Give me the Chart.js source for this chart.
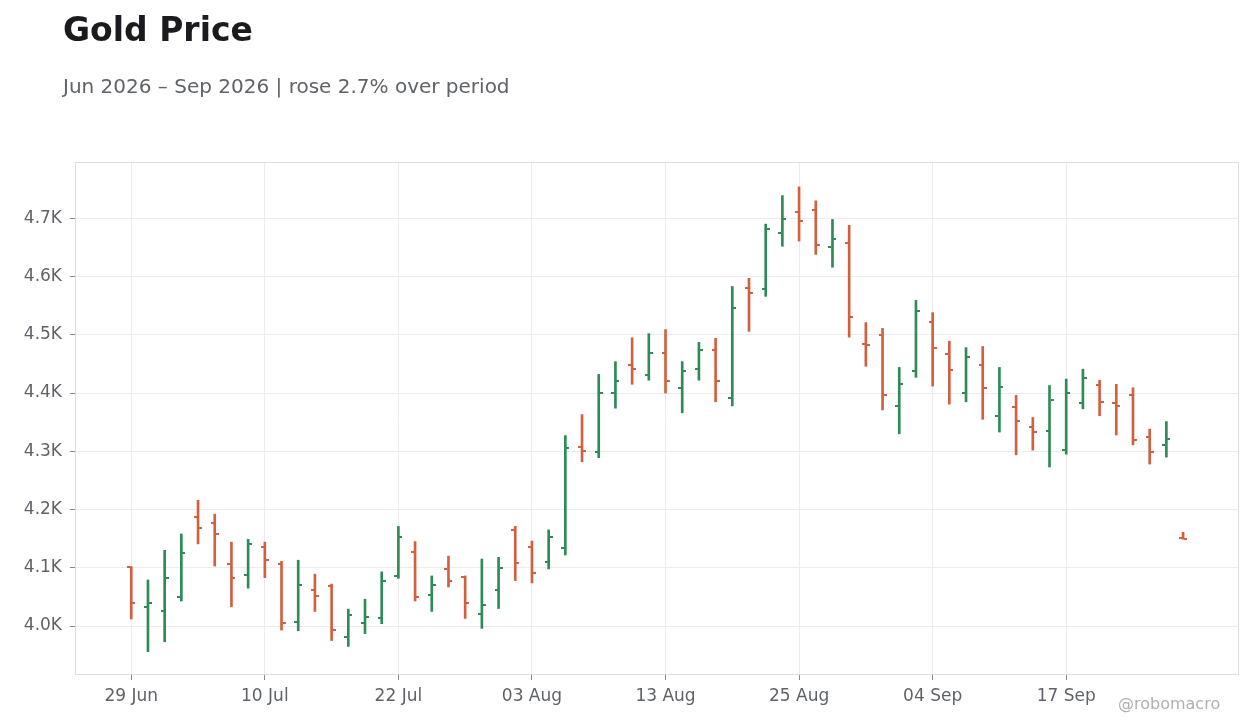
<!DOCTYPE html>
<html>
<head>
<meta charset="utf-8">
<script src="https://cdn.jsdelivr.net/npm/chart.js@4.4.1/dist/chart.umd.min.js"></script>
<style>
  html, body { margin: 0; padding: 0; background: #ffffff; }
  #wrap { position: relative; width: 1260px; height: 728px; overflow: hidden; font-family: "DejaVu Sans", sans-serif; }
  #title { position: absolute; left: 63px; top: 12.8px; font-size: 33px; line-height: 33px; font-weight: bold; color: #1b1b1f; white-space: nowrap; }
  #subtitle { position: absolute; left: 63px; top: 76.4px; font-size: 20px; line-height: 20px; color: #5f6368; white-space: nowrap; }
  #mark { position: absolute; left: 1118px; top: 695.5px; font-size: 16px; line-height: 16px; color: #b0b0b0; white-space: nowrap; }
  canvas { position: absolute; left: 0; top: 0; }
</style>
</head>
<body>
<div id="wrap">
  <canvas id="c" width="1260" height="728"></canvas>
  <div id="title">Gold Price</div>
  <div id="subtitle">Jun 2026 – Sep 2026 | rose 2.7% over period</div>
  <div id="mark">@robomacro</div>
</div>
<script>
// Trading days (category for each bar)
const dates = ['29 Jun','30 Jun','01 Jul','02 Jul','06 Jul','07 Jul','08 Jul','09 Jul','10 Jul','13 Jul',
  '14 Jul','15 Jul','16 Jul','17 Jul','20 Jul','21 Jul','22 Jul','23 Jul','24 Jul','27 Jul',
  '28 Jul','29 Jul','30 Jul','31 Jul','03 Aug','04 Aug','05 Aug','06 Aug','07 Aug','10 Aug',
  '11 Aug','12 Aug','13 Aug','14 Aug','17 Aug','18 Aug','19 Aug','20 Aug','21 Aug','24 Aug',
  '25 Aug','26 Aug','27 Aug','28 Aug','31 Aug','01 Sep','02 Sep','03 Sep','04 Sep','08 Sep',
  '09 Sep','10 Sep','11 Sep','14 Sep','15 Sep','16 Sep','17 Sep','18 Sep','21 Sep','22 Sep',
  '23 Sep','24 Sep','25 Sep','28 Sep'];

const openV  = [4102,4033,4026,4050,4187,4177,4107,4088,4136,4107,
  4007,4061,4069,3982,4006,4014,4086,4127,4054,4098,
  4085,4021,4062,4165,4136,4110,4134,4307,4299,4400,
  4449,4431,4469,4409,4441,4474,4391,4580,4578,4674,
  4710,4715,4650,4657,4484,4500,4378,4438,4522,4467,
  4400,4448,4361,4376,4342,4335,4302,4383,4414,4383,
  4396,4325,4311,4151];
const highV  = [4102,4079,4130,4158,4216,4192,4144,4149,4144,4111,
  4113,4089,4072,4029,4046,4093,4171,4145,4086,4120,
  4086,4115,4118,4171,4146,4165,4327,4363,4432,4454,
  4495,4502,4509,4454,4487,4494,4583,4597,4690,4739,
  4754,4730,4698,4688,4521,4511,4444,4559,4538,4489,
  4478,4480,4444,4396,4358,4413,4424,4441,4422,4415,
  4409,4338,4351,4161];
const lowV   = [4012,3956,3973,4043,4141,4103,4033,4065,4083,3993,
  3992,4025,3975,3965,3987,4004,4082,4043,4025,4067,
  4013,3996,4030,4078,4074,4098,4122,4282,4289,4374,
  4415,4422,4400,4366,4422,4385,4378,4506,4566,4652,
  4661,4638,4616,4496,4446,4371,4330,4427,4412,4381,
  4385,4355,4333,4294,4302,4273,4295,4373,4361,4328,
  4311,4278,4290,4149];
const closeV = [4040,4040,4083,4126,4169,4158,4083,4141,4114,4006,
  4071,4051,3993,4019,4016,4078,4153,4050,4071,4078,
  4040,4036,4100,4108,4091,4153,4306,4300,4400,4420,
  4441,4469,4420,4438,4474,4420,4546,4571,4681,4698,
  4695,4654,4664,4530,4482,4397,4415,4541,4477,4440,
  4462,4409,4410,4352,4333,4388,4400,4426,4385,4378,
  4319,4299,4321,4150];

const xTickIdx = [0, 8, 16, 24, 32, 40, 48, 56];
const yTicks = [4000, 4100, 4200, 4300, 4400, 4500, 4600, 4700];

const UP = '#2e8b57';
const DOWN = '#d0603f';
const colors = closeV.map((c, i) => c >= openV[i] ? UP : DOWN);

const FONT = "'DejaVu Sans', sans-serif";

const ohlcTicks = {
  id: 'ohlcTicks',
  afterDatasetsDraw(chart) {
    const xs = chart.scales.x, ys = chart.scales.y, ctx = chart.ctx;
    ctx.save();
    for (let i = 0; i < openV.length; i++) {
      const px = xs.getPixelForValue(i);
      const po = ys.getPixelForValue(openV[i]);
      const pc = ys.getPixelForValue(closeV[i]);
      ctx.fillStyle = colors[i];
      ctx.fillRect(Math.round(px) - 4, Math.round(po) - 1, 3, 2);
      ctx.fillRect(Math.round(px) + 1, Math.round(pc) - 1, 3, 2);
    }
    ctx.restore();
  }
};

const frame = {
  id: 'frame',
  beforeDatasetsDraw(chart) {
    const a = chart.chartArea, ctx = chart.ctx;
    ctx.save();
    ctx.strokeStyle = '#dedede';
    ctx.lineWidth = 1;
    ctx.strokeRect(Math.round(a.left) + 0.5, Math.round(a.top) + 0.5, Math.round(a.right - a.left) - 1, Math.round(a.bottom - a.top) - 1);
    ctx.restore();
  }
};

new Chart(document.getElementById('c'), {
  type: 'bar',
  data: {
    datasets: [{
      data: dates.map((d, i) => ({ x: i, y: [lowV[i], highV[i]] })),
      backgroundColor: colors,
      borderWidth: 0,
      barThickness: 2,
      borderSkipped: false
    }]
  },
  options: {
    responsive: false,
    animation: false,
    devicePixelRatio: 1,
    layout: { padding: { left: 0, top: 162, right: 21, bottom: 0 } },
    plugins: { legend: { display: false }, tooltip: { enabled: false }, title: { display: false } },
    scales: {
      x: {
        type: 'linear',
        min: -3.37,
        max: 66.35,
        offset: false,
        afterBuildTicks(s) { s.ticks = xTickIdx.map(v => ({ value: v })); },
        afterFit(s) { s.height = 53; },
        ticks: {
          callback: v => dates[v],
          color: '#5f6368',
          font: { family: FONT, size: 17 },
          padding: 6,
          maxRotation: 0,
          autoSkip: false
        },
        grid: { offset: false, color: '#ececec', lineWidth: 1, drawTicks: true, tickLength: 5, tickColor: '#888888' },
        border: { display: false }
      },
      y: {
        min: 3915.9,
        max: 4796.7,
        afterBuildTicks(s) { s.ticks = yTicks.map(v => ({ value: v })); },
        afterFit(s) { s.width = 75; },
        ticks: {
          callback: v => (v / 1000).toFixed(1) + 'K',
          color: '#5f6368',
          font: { family: FONT, size: 17 },
          padding: 8
        },
        grid: { color: '#ececec', lineWidth: 1, drawTicks: true, tickLength: 5, tickColor: '#888888' },
        border: { display: false }
      }
    }
  },
  plugins: [frame, ohlcTicks]
});
</script>
</body>
</html>
